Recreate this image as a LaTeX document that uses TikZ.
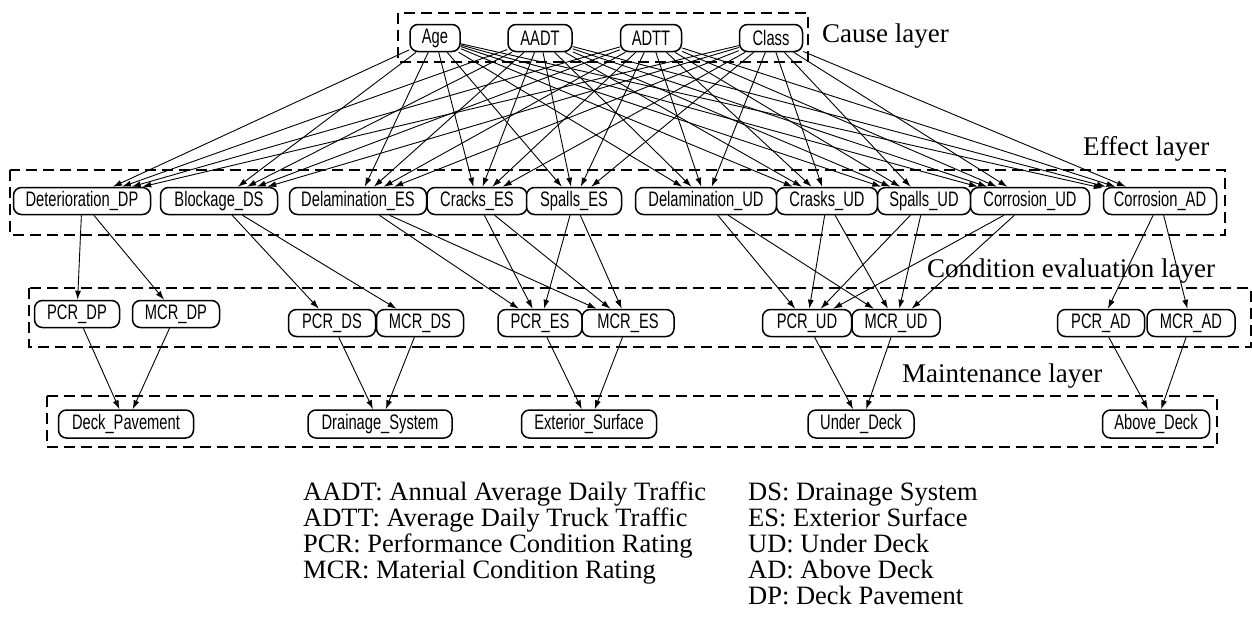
\documentclass[tikz,border=0pt]{standalone}
\usepackage{fontspec}
\setmainfont{Liberation Serif}
\newfontfamily\nodefont[FakeStretch=0.7]{Liberation Sans}
\usetikzlibrary{arrows.meta}
\begin{document}
\begin{tikzpicture}[x=1pt,y=-1pt,
  bn/.style={draw, fill=white, line width=1.5pt, rounded corners=8pt, minimum height=27pt, inner sep=0pt, font=\nodefont\fontsize{21}{21}\selectfont},
  layerbox/.style={draw, line width=2.6pt, dash pattern=on 11pt off 6pt},
  layerlabel/.style={anchor=base west, inner sep=0pt, font=\fontsize{27}{27}\selectfont},
  legendtxt/.style={anchor=base west, inner sep=0pt, font=\fontsize{26.5}{26}\selectfont},
  arr/.style={-{Latex[length=9pt,width=6pt]}, line width=0.9pt}
]
\useasboundingbox (0,0) rectangle (1252,619);

% layer boxes
\draw[layerbox] (398,13) rectangle (808,62);
\draw[layerbox] (10,170) rectangle (1225,235);
\draw[layerbox] (29,288) rectangle (1251,347);
\draw[layerbox] (47,396) rectangle (1217,447);

% layer labels
\node[layerlabel] (lcause) at (822,42) {Cause layer};
\node[layerlabel] (leffect) at (1083,155) {Effect layer};
\node[layerlabel] (lcond) at (927,277) {Condition evaluation layer};
\node[layerlabel] (lmaint) at (902,382) {Maintenance layer};

% cause layer
\node[bn, minimum width=50pt] (age) at (435,38) {Age};
\node[bn, minimum width=64pt] (aadt) at (540,38) {AADT};
\node[bn, minimum width=61pt] (adtt) at (651,38) {ADTT};
\node[bn, minimum width=63pt] (class) at (771,38) {Class};

% effect layer
\node[bn, minimum width=137pt] (detDP) at (82,201) {Deterioration\_DP};
\node[bn, minimum width=117pt] (blkDS) at (219,201) {Blockage\_DS};
\node[bn, minimum width=137pt] (delES) at (358,201) {Delamination\_ES};
\node[bn, minimum width=100pt] (crES) at (477,201) {Cracks\_ES};
\node[bn, minimum width=95pt] (spES) at (574,201) {Spalls\_ES};
\node[bn, minimum width=141pt] (delUD) at (706,201) {Delamination\_UD};
\node[bn, minimum width=101pt] (crUD) at (827,201) {Crasks\_UD};
\node[bn, minimum width=93pt] (spUD) at (924,201) {Spalls\_UD};
\node[bn, minimum width=119pt] (corUD) at (1030,201) {Corrosion\_UD};
\node[bn, minimum width=113pt] (corAD) at (1160,201) {Corrosion\_AD};

% condition layer
\node[bn, minimum width=85pt] (pcrDP) at (77,314) {PCR\_DP};
\node[bn, minimum width=87pt] (mcrDP) at (176,314) {MCR\_DP};
\node[bn, minimum width=87pt] (pcrDS) at (332,323) {PCR\_DS};
\node[bn, minimum width=87pt] (mcrDS) at (420,323) {MCR\_DS};
\node[bn, minimum width=84pt] (pcrES) at (540,323) {PCR\_ES};
\node[bn, minimum width=92pt] (mcrES) at (628,323) {MCR\_ES};
\node[bn, minimum width=89pt] (pcrUD) at (807,323) {PCR\_UD};
\node[bn, minimum width=88pt] (mcrUD) at (896,323) {MCR\_UD};
\node[bn, minimum width=87pt] (pcrAD) at (1101,323) {PCR\_AD};
\node[bn, minimum width=88pt] (mcrAD) at (1191,323) {MCR\_AD};

% maintenance layer
\node[bn, minimum width=135pt, minimum height=28pt] (deck) at (126,424) {Deck\_Pavement};
\node[bn, minimum width=144pt, minimum height=28pt] (drain) at (380,424) {Drainage\_System};
\node[bn, minimum width=135pt, minimum height=28pt] (ext) at (589,424) {Exterior\_Surface};
\node[bn, minimum width=106pt, minimum height=28pt] (under) at (861,424) {Under\_Deck};
\node[bn, minimum width=107pt, minimum height=28pt] (above) at (1156,424) {Above\_Deck};

% cause -> effect
\foreach \c in {age,aadt,adtt,class}
  \foreach \e in {detDP,blkDS,delES,crES,spES,delUD,crUD,spUD,corUD,corAD}
    \draw[arr] (\c) -- (\e);

% effect -> condition
\foreach \s/\t in {detDP/DP,blkDS/DS,delES/ES,crES/ES,spES/ES,delUD/UD,crUD/UD,spUD/UD,corUD/UD,corAD/AD}
  {\draw[arr] (\s) -- (pcr\t); \draw[arr] (\s) -- (mcr\t);}

% condition -> maintenance
\foreach \t/\m in {DP/deck,DS/drain,ES/ext,UD/under,AD/above}
  {\draw[arr] (pcr\t) -- (\m); \draw[arr] (mcr\t) -- (\m);}

% legend
\node[legendtxt] (lg1) at (303,500) {AADT: Annual Average Daily Traffic};
\node[legendtxt] (lg2) at (303,526) {ADTT: Average Daily Truck Traffic};
\node[legendtxt] (lg3) at (303,552) {PCR: Performance Condition Rating};
\node[legendtxt] (lg4) at (303,578) {MCR: Material Condition Rating};
\node[legendtxt] (lg5) at (748,500) {DS: Drainage System};
\node[legendtxt] (lg6) at (748,526) {ES: Exterior Surface};
\node[legendtxt] (lg7) at (748,552) {UD: Under Deck};
\node[legendtxt] (lg8) at (748,578) {AD: Above Deck};
\node[legendtxt] (lg9) at (748,604) {DP: Deck Pavement};
\end{tikzpicture}
\end{document}
